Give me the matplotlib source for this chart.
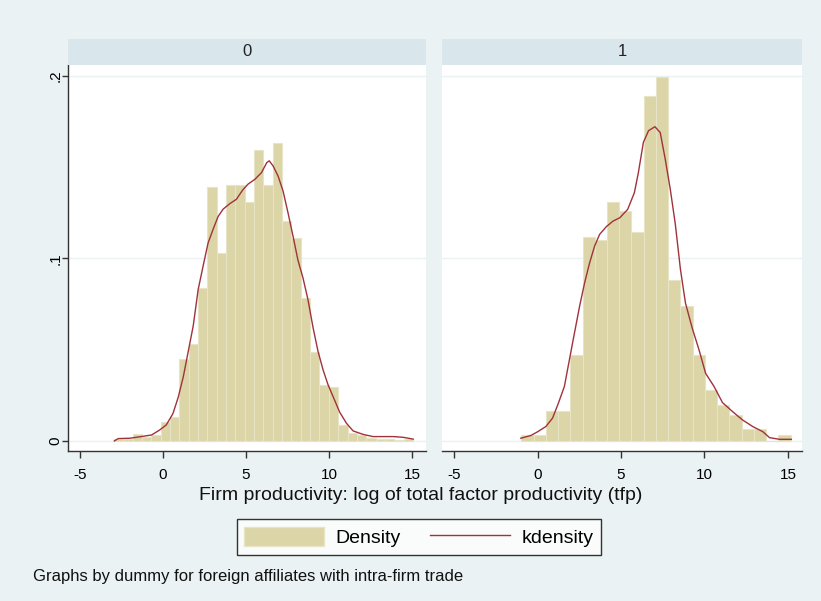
import matplotlib.pyplot as plt
from matplotlib.patches import Patch
from matplotlib.lines import Line2D

# histogram bins per panel (Stata picks its own bin count for each group)
bin_start_0 = -2.95
bin_width_0 = 0.5625
density_0 = [0.001, 0.001, 0.004, 0.002, 0.003, 0.0106, 0.013, 0.045,
             0.053, 0.084, 0.139, 0.103, 0.140, 0.140, 0.131, 0.1595,
             0.140, 0.1635, 0.1205, 0.111, 0.0784, 0.049, 0.0308, 0.0293,
             0.0088, 0.0042, 0.003, 0.0015, 0.001, 0.001, 0.0005, 0.001]

bin_start_1 = -0.97
bin_width_1 = 0.733
density_1 = [0.003, 0.0035, 0.0165, 0.0165, 0.047, 0.1117, 0.1099, 0.131,
             0.126, 0.1147, 0.189, 0.1992, 0.088, 0.0738, 0.0473, 0.028,
             0.0198, 0.0143, 0.0064, 0.0064, 0.0, 0.0033]

# kernel density curves
kx_0 = [-2.93, -2.7, -2.0, -1.3, -0.68, -0.2, 0.2, 0.6, 0.92, 1.22, 1.52,
        1.82, 2.12, 2.42, 2.72, 3.02, 3.32, 3.62, 4.02, 4.42, 4.8, 5.12,
        5.54, 5.93, 6.25, 6.4, 6.63, 6.93, 7.23, 7.53, 7.83, 8.13, 8.43,
        8.73, 9.04, 9.34, 9.64, 9.94, 10.24, 10.64, 11.05, 11.45, 12.05,
        12.65, 13.87, 14.47, 15.07]
ky_0 = [0.0, 0.0013, 0.0015, 0.0024, 0.0033, 0.006, 0.0088, 0.015, 0.024,
        0.035, 0.049, 0.063, 0.083, 0.096, 0.1086, 0.116, 0.123, 0.127,
        0.1300, 0.1324, 0.1375, 0.1407, 0.1434, 0.147, 0.1525, 0.1535,
        0.1507, 0.1452, 0.137, 0.125, 0.1123, 0.099, 0.0894, 0.0775,
        0.062, 0.049, 0.039, 0.0308, 0.0244, 0.0158, 0.0097, 0.0055,
        0.0036, 0.0024, 0.0024, 0.002, 0.001]

kx_1 = [-1.0, -0.4, 0.0, 0.5, 0.9, 1.25, 1.61, 1.91, 2.21, 2.52, 2.82,
        3.12, 3.42, 3.72, 4.13, 4.53, 4.93, 5.4, 5.8, 6.04, 6.34, 6.65,
        7.03, 7.35, 7.65, 7.95, 8.25, 8.56, 8.86, 9.26, 9.67, 10.07,
        10.57, 11.08, 11.68, 12.28, 12.89, 13.49, 13.9, 14.5, 15.2]
ky_1 = [0.0015, 0.003, 0.005, 0.0079, 0.0125, 0.0207, 0.0299, 0.0445,
        0.059, 0.0738, 0.0866, 0.0976, 0.1068, 0.1132, 0.1175, 0.1205,
        0.1223, 0.1269, 0.136, 0.147, 0.1636, 0.170, 0.1722, 0.169,
        0.1544, 0.138, 0.119, 0.094, 0.0756, 0.062, 0.050, 0.037, 0.0299,
        0.021, 0.0161, 0.0115, 0.0079, 0.0051, 0.0018, 0.0009, 0.0009]

group_labels = ["0", "1"]
x_ticks = [-5, 0, 5, 10, 15]
y_ticks = [0, 0.1, 0.2]
y_tick_labels = ["0", ".1", ".2"]

BG = "#EAF2F3"
STRIP = "#D9E6EB"
BAR = "#DBD5A7"
BAR_EDGE = "#E8E4C6"
LINE = "#A0323C"

plt.rcParams["font.family"] = ["Liberation Sans", "DejaVu Sans"]

fig = plt.figure(figsize=(8.21, 6.01), dpi=100, facecolor=BG)
W, H = 821, 601


def px_axes(x0, y0, x1, y1):
    return fig.add_axes([x0 / W, 1 - y1 / H, (x1 - x0) / W, (y1 - y0) / H])


panels = [
    (68, 426, bin_start_0, bin_width_0, density_0, kx_0, ky_0),
    (442, 802, bin_start_1, bin_width_1, density_1, kx_1, ky_1),
]

for i, (x0, x1, b0, bw, dens, kx, ky) in enumerate(panels):
    ax = px_axes(x0, 65, x1, 451)
    ax.set_facecolor("white")
    lefts = [b0 + bw * k for k in range(len(dens))]
    ax.bar(lefts, dens, width=bw, align="edge", color=BAR,
           edgecolor=BAR_EDGE, linewidth=0.8, zorder=2)
    ax.plot(kx, ky, color=LINE, linewidth=1.0, zorder=3)

    for yv in y_ticks:
        ax.axhline(yv, color=BG, linewidth=1.0, zorder=1)

    ax.set_xlim(-5.72, 15.84)
    ax.set_ylim(-0.0055, 0.206)
    ax.set_xticks(x_ticks)
    ax.set_xticklabels([str(t) for t in x_ticks], fontsize=11)
    ax.set_yticks(y_ticks)
    for s in ["top", "right"]:
        ax.spines[s].set_visible(False)
    ax.spines["bottom"].set_color("#333333")
    ax.spines["bottom"].set_linewidth(1.0)
    ax.tick_params(axis="x", length=5, width=1, color="#333333", pad=7)
    if i == 0:
        ax.spines["left"].set_color("#333333")
        ax.spines["left"].set_linewidth(1.0)
        ax.set_yticklabels(y_tick_labels, fontsize=11, rotation=90,
                           va="center")
        ax.tick_params(axis="y", length=4, width=1, color="#333333", pad=0)
    else:
        ax.spines["left"].set_visible(False)
        ax.tick_params(axis="y", length=0, labelleft=False)

    # strip with group label
    sax = px_axes(x0, 39, x1, 65)
    sax.set_facecolor(STRIP)
    sax.set_xticks([])
    sax.set_yticks([])
    for s in sax.spines.values():
        s.set_visible(False)
    sax.text(0.5, 0.5, group_labels[i], ha="center", va="center",
             fontsize=12, color="#222222", transform=sax.transAxes)

fig.text(421 / W, 1 - 496 / H,
         "Firm productivity: log of total factor productivity (tfp)",
         ha="center", va="center", fontsize=14, color="#111111")

handles = [Patch(facecolor=BAR, edgecolor=BAR_EDGE),
           Line2D([0], [0], color=LINE, linewidth=1.0)]
leg = fig.legend(handles, ["Density", "kdensity"], ncol=2,
                 loc="center", bbox_to_anchor=(419 / W, 1 - 537 / H),
                 frameon=True, fancybox=False, fontsize=14,
                 handlelength=4.1, handleheight=1.1, columnspacing=1.5,
                 handletextpad=0.6, borderpad=0.4, borderaxespad=0)
leg.get_frame().set_edgecolor("black")
leg.get_frame().set_linewidth(1.0)

fig.text(33 / W, 1 - 576 / H,
         "Graphs by dummy for foreign affiliates with intra-firm trade",
         ha="left", va="center", fontsize=12, color="#111111")

fig.savefig("out.png", dpi=100, facecolor=BG)
